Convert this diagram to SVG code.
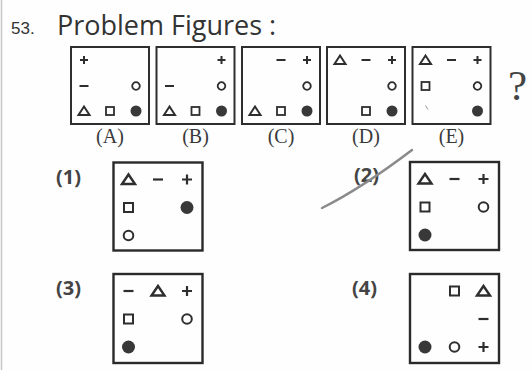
<svg xmlns="http://www.w3.org/2000/svg" xmlns:xlink="http://www.w3.org/1999/xlink" width="532" height="370" viewBox="0 0 532 370">
<style>
.bx{fill:none;stroke:#2e2e2e;stroke-width:2}
.ob{fill:none;stroke:#2a2a2a;stroke-width:2.4}
.s{fill:none;stroke:#2e2e2e;stroke-linejoin:miter}
.f{fill:#383838}
.lab{font-family:"Liberation Serif",serif;font-size:20px;fill:#3a3a3a;text-anchor:middle}
.opt{font-family:"Open Sans","Liberation Sans",sans-serif;font-weight:bold;font-size:20px;fill:#444}
</style>
<defs>
<path id="pplus" class="s" stroke-width="2" d="M-4,0H4M0,-4V4"/>
<path id="pminus" class="s" stroke-width="2" d="M-4.5,0H4.5"/>
<circle id="pcirc" class="s" stroke-width="1.8" r="3.8"/>
<circle id="pdot" class="f" r="5.5"/>
<polygon id="ptri" class="s" stroke-width="2" points="0,-4.5 5.5,4 -5.5,4"/>
<rect id="psq" class="s" stroke-width="1.8" x="-4" y="-4" width="8" height="8"/>
<path id="oplus" class="s" stroke-width="2.2" d="M-5,0H5M0,-5V5"/>
<path id="ominus" class="s" stroke-width="2.2" d="M-5,0H5"/>
<circle id="ocirc" class="s" stroke-width="2" r="4.8"/>
<circle id="odot" class="f" r="6.5"/>
<polygon id="otri" class="s" stroke-width="2.4" points="0,-5 6.5,4.5 -6.5,4.5"/>
<rect id="osq" class="s" stroke-width="2" x="-4.5" y="-4.5" width="9" height="9"/>
</defs>
<rect width="532" height="370" fill="#fefefe"/>
<line x1="1.5" y1="0" x2="1.5" y2="370" stroke="#c8c8c8" stroke-width="1.5"/>
<g id="title">
<text x="11" y="34" font-family="Liberation Sans,sans-serif" font-size="17" fill="#333">53.</text>
<text x="57" y="35" font-family="Open Sans,Liberation Sans,sans-serif" font-size="27" fill="#333">Problem Figures :</text>
</g>
<g id="figA">
<rect class="bx" x="71" y="47" width="78" height="77"/>
<use href="#pplus" x="84" y="60"/><use href="#pminus" x="84" y="86"/><use href="#pcirc" x="136" y="86"/>
<use href="#ptri" x="84" y="111"/><use href="#psq" x="110" y="111"/><use href="#pdot" x="136" y="111"/>
<text class="lab" x="110" y="143">(A)</text>
</g>
<g id="figB">
<rect class="bx" x="156.5" y="47" width="78" height="77"/>
<use href="#pplus" x="221.5" y="60"/><use href="#pminus" x="169.5" y="86"/><use href="#pcirc" x="221.5" y="86"/>
<use href="#ptri" x="169.5" y="111"/><use href="#psq" x="195.5" y="111"/><use href="#pdot" x="221.5" y="111"/>
<text class="lab" x="195.5" y="143">(B)</text>
</g>
<g id="figC">
<rect class="bx" x="242" y="47" width="78" height="77"/>
<use href="#pminus" x="281" y="60"/><use href="#pplus" x="307" y="60"/><use href="#pcirc" x="307" y="86"/>
<use href="#ptri" x="255" y="111"/><use href="#psq" x="281" y="111"/><use href="#pdot" x="307" y="111"/>
<text class="lab" x="281" y="143">(C)</text>
</g>
<g id="figD">
<rect class="bx" x="327" y="47" width="78" height="77"/>
<use href="#ptri" x="340" y="60"/><use href="#pminus" x="366" y="60"/><use href="#pplus" x="392" y="60"/>
<use href="#pcirc" x="392" y="86"/><use href="#psq" x="366" y="111"/><use href="#pdot" x="392" y="111"/>
<text class="lab" x="366" y="143">(D)</text>
</g>
<g id="figE">
<rect class="bx" x="412.5" y="47" width="78" height="77"/>
<use href="#ptri" x="425.5" y="60"/><use href="#pminus" x="451.5" y="60"/><use href="#pplus" x="477.5" y="60"/>
<use href="#psq" x="425.5" y="86"/><use href="#pcirc" x="477.5" y="86"/><use href="#pdot" x="477.5" y="111"/>
<line x1="425.5" y1="105.5" x2="428" y2="109.5" stroke="#999" stroke-width="1"/>
<text class="lab" x="451.5" y="143">(E)</text>
</g>
<g id="qmark">
<text x="508" y="100" font-family="Liberation Serif,serif" font-size="43" fill="#444">?</text>
</g>
<g id="opt1">
<text class="opt" x="56" y="184">(1)</text>
<rect class="ob" x="113.5" y="162.5" width="89" height="88"/>
<use href="#otri" x="128.5" y="179.5"/><use href="#ominus" x="158" y="179.5"/><use href="#oplus" x="187" y="179.5"/>
<use href="#osq" x="128.5" y="207.5"/><use href="#odot" x="187" y="207.5"/><use href="#ocirc" x="128.5" y="235.5"/>
</g>
<g id="opt2">
<text class="opt" x="354" y="182">(2)</text>
<rect class="ob" x="410" y="162" width="89" height="88"/>
<use href="#otri" x="425" y="179"/><use href="#ominus" x="454.5" y="179"/><use href="#oplus" x="483.5" y="179"/>
<use href="#osq" x="425" y="207"/><use href="#ocirc" x="483.5" y="207"/><use href="#odot" x="425" y="235"/>
</g>
<g id="opt3">
<text class="opt" x="56" y="295">(3)</text>
<rect class="ob" x="113.5" y="274" width="89" height="89"/>
<use href="#ominus" x="128.5" y="291"/><use href="#otri" x="158" y="291"/><use href="#oplus" x="187" y="291"/>
<use href="#osq" x="128.5" y="319"/><use href="#ocirc" x="187" y="319"/><use href="#odot" x="128.5" y="347"/>
</g>
<g id="opt4">
<text class="opt" x="352" y="295">(4)</text>
<rect class="ob" x="410" y="274" width="89" height="89"/>
<use href="#osq" x="454.5" y="291"/><use href="#otri" x="483.5" y="291"/><use href="#ominus" x="483.5" y="319"/>
<use href="#odot" x="425" y="347"/><use href="#ocirc" x="454.5" y="347"/><use href="#oplus" x="483.5" y="347"/>
</g>
<g id="connectors">
<path d="M322,208 Q362,188 412,150" fill="none" stroke="#8a8a8a" stroke-width="2.5" stroke-linecap="round"/>
</g>
</svg>
